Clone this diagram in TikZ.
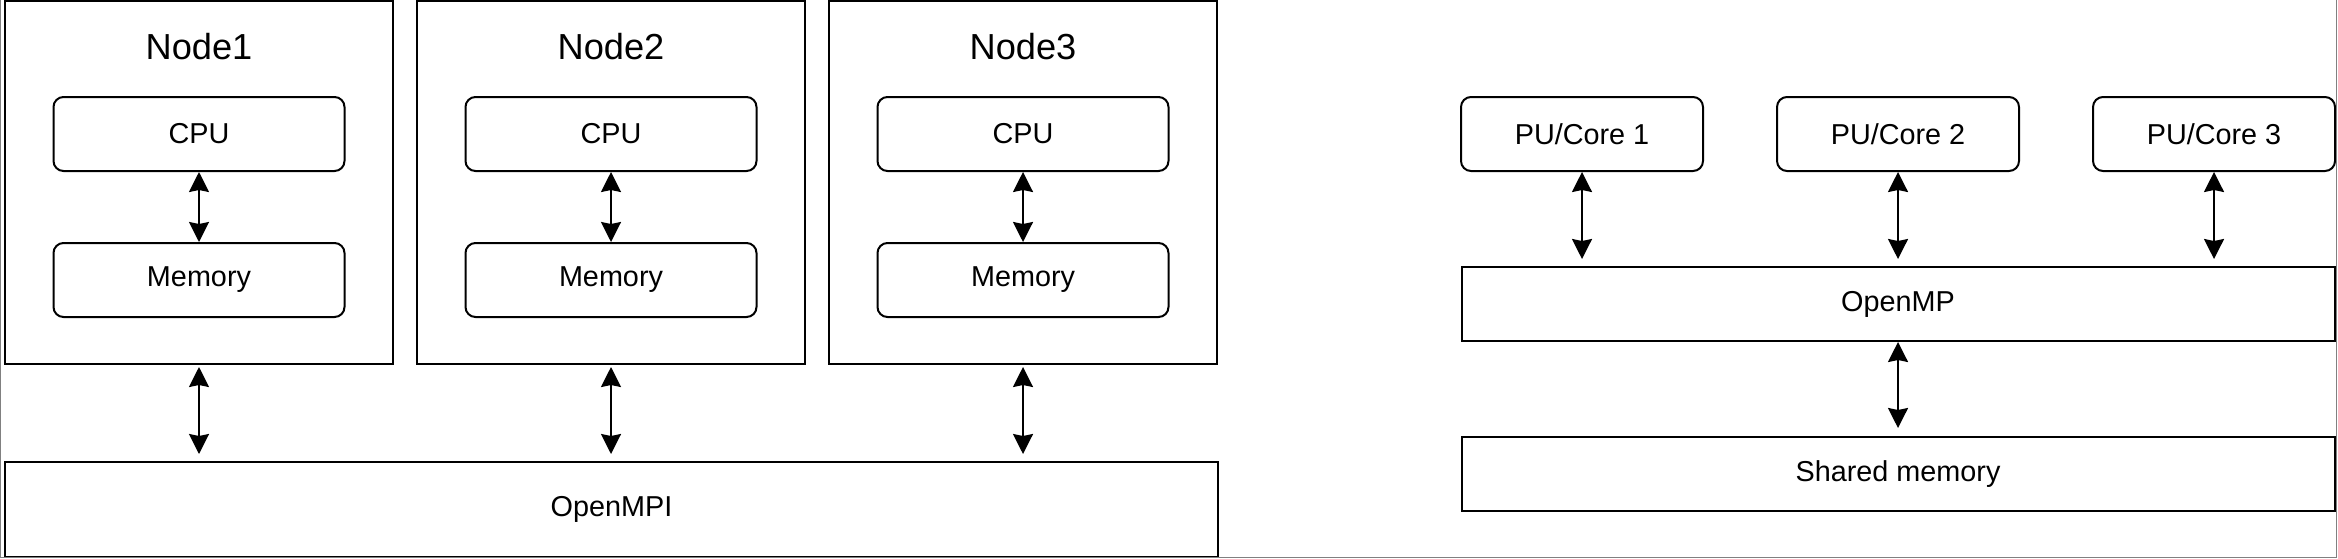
\documentclass[tikz,border=0pt]{standalone}
\usepackage{fontspec}
\setmainfont{Liberation Sans}
\usepackage{tikz}
\usetikzlibrary{positioning,arrows.meta}

\begin{document}
\begin{tikzpicture}[x=0.5pt, y=-0.5pt, >={Stealth[length=10pt,width=10pt,inset=1pt]}]

    % Define styles
    \tikzstyle{hostbox} = [rectangle, draw, line width=1pt, minimum width=194pt, minimum height=181.5pt, inner sep=0pt]
    \tikzstyle{hosttitle} = [font=\fontsize{18.1}{21}\selectfont, inner sep=0pt]
    \tikzstyle{unit} = [rectangle, draw, line width=1pt, rounded corners=5pt, minimum height=37pt, inner sep=0pt, font=\fontsize{14.4}{17}\selectfont]
    \tikzstyle{layer} = [rectangle, draw, line width=1pt, minimum height=37pt, inner sep=0pt, font=\fontsize{14.4}{17}\selectfont]
    \tikzstyle{flow} = [line width=1pt, <->]

    \useasboundingbox (0,0) rectangle (2338,558);

    % Distributed memory: nodes
    \node [hostbox] (node1) at (199,182.5) {};
    \node [hostbox, right=11pt of node1] (node2) {};
    \node [hostbox, right=11pt of node2] (node3) {};

    \node [hosttitle] (title1) at (node1.center |- 0,47) {Node1};
    \node [hosttitle] (title2) at (node2.center |- 0,47) {Node2};
    \node [hosttitle] (title3) at (node3.center |- 0,47) {Node3};

    \node [unit, minimum width=145.5pt] (cpu1) at (node1.center |- 0,134) {CPU};
    \node [unit, minimum width=145.5pt] (cpu2) at (node2.center |- 0,134) {CPU};
    \node [unit, minimum width=145.5pt] (cpu3) at (node3.center |- 0,134) {CPU};

    \node [unit, minimum width=145.5pt, below=35pt of cpu1] (mem1) {Memory};
    \node [unit, minimum width=145.5pt, below=35pt of cpu2] (mem2) {Memory};
    \node [unit, minimum width=145.5pt, below=35pt of cpu3] (mem3) {Memory};

    % Message passing layer
    \node [layer, minimum width=606.5pt, minimum height=47.5pt] (mpi) at (611.5,509.5) {OpenMPI};

    % Shared memory: cores
    \node [unit, minimum width=121pt] (core1) at (1582,134) {PU/Core 1};
    \node [unit, minimum width=121pt, right=36pt of core1] (core2) {PU/Core 2};
    \node [unit, minimum width=121pt, right=36pt of core2] (core3) {PU/Core 3};

    \node [layer, minimum width=436.5pt, below=47pt of core2] (omp) {OpenMP};
    \node [layer, minimum width=436.5pt, below=47pt of omp] (shm) {Shared memory};

    % Flows
    \draw [flow] (cpu1) -- (mem1);
    \draw [flow] (cpu2) -- (mem2);
    \draw [flow] (cpu3) -- (mem3);
    \draw [flow, shorten <=1pt, shorten >=3.5pt] (node1.south) -- (node1.south |- mpi.north);
    \draw [flow, shorten <=1pt, shorten >=3.5pt] (node2.south) -- (node2.south |- mpi.north);
    \draw [flow, shorten <=1pt, shorten >=3.5pt] (node3.south) -- (node3.south |- mpi.north);
    \draw [flow, shorten >=3.5pt] (core1.south) -- (core1.south |- omp.north);
    \draw [flow, shorten >=3.5pt] (core2.south) -- (core2.south |- omp.north);
    \draw [flow, shorten >=3.5pt] (core3.south) -- (core3.south |- omp.north);
    \draw [flow, shorten >=4pt] (omp) -- (shm);

    % Frame
    \draw [gray, line width=0.6pt] (0.6,0) -- (0.6,557.4) -- (2336.6,557.4) -- (2336.6,0);

\end{tikzpicture}
\end{document}
